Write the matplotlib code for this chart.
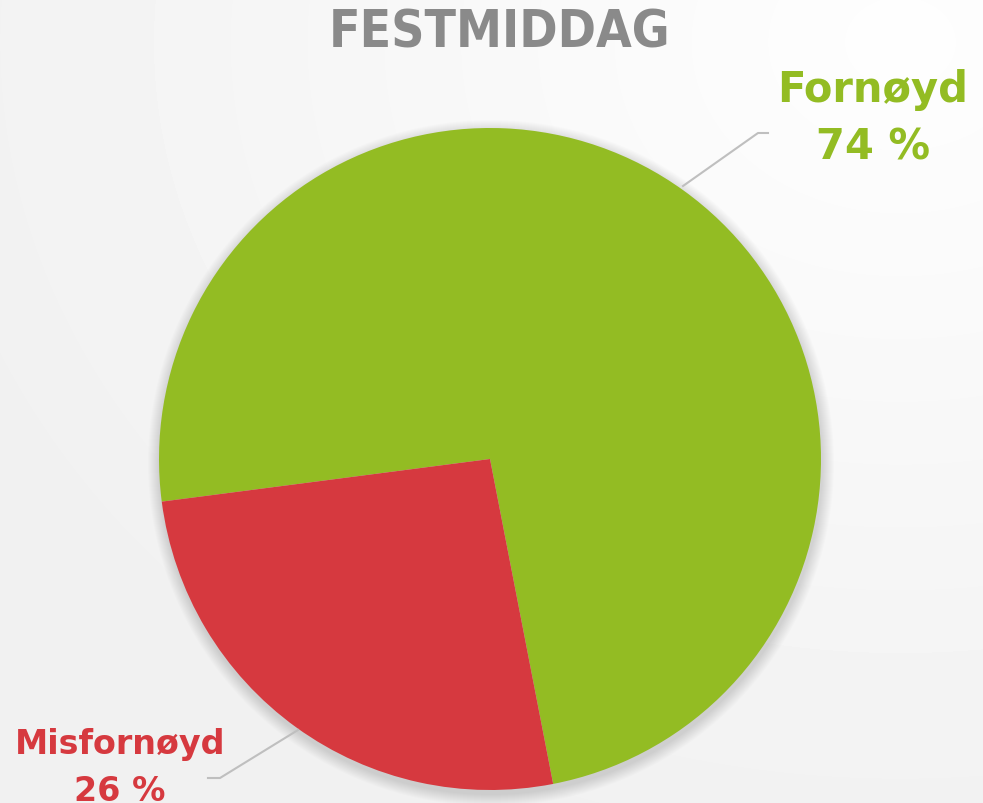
import numpy as np
import matplotlib
matplotlib.use("Agg")
import matplotlib.pyplot as plt
from matplotlib.patches import Circle

TITLE = "FESTMIDDAG"
LABELS = ["Fornøyd", "Misfornøyd"]
SHARES = [74, 26]
COLORS = ["#93BC23", "#D6393F"]

W, H = 983, 804


def main():
    fig = plt.figure(figsize=(W / 100, H / 100), dpi=100)
    ax = fig.add_axes([0, 0, 1, 1])

    # soft background: white at the top right, light grey elsewhere
    yy, xx = np.mgrid[0:H, 0:W]
    d = np.hypot((xx - 900) / W, (yy - 760) / H)
    bg = 0.995 - 0.05 * np.clip(d, 0, 1)
    ax.imshow(bg, cmap="gray", vmin=0, vmax=1, extent=(0, W, 0, H),
              origin="lower", zorder=0, interpolation="bilinear")

    cx, cy, r = 490, H - 460, 331

    # faint shadow around the pie
    for i in range(12):
        ax.add_patch(Circle((cx + 1, cy - 4), r + 12 - i, color="black",
                            alpha=0.012, lw=0, zorder=1))

    ax.pie(SHARES, colors=COLORS, startangle=-79, counterclock=True,
           center=(cx, cy), radius=r, frame=True,
           wedgeprops=dict(linewidth=0, zorder=2))
    ax.set_xlim(0, W)
    ax.set_ylim(0, H)
    ax.set_aspect("equal")
    ax.axis("off")

    ax.text(500, H - 33, TITLE, ha="center", va="center", fontsize=37,
            fontweight="bold", fontstretch="condensed", color="#8A8A8A",
            family=["DejaVu Sans"])

    # leader lines
    ax.plot([683, 758, 768], [H - 187, H - 134, H - 134], color="#BFBFBF",
            lw=1.5, zorder=3)
    ax.plot([298, 220, 208], [H - 731, H - 779, H - 779], color="#BFBFBF",
            lw=1.5, zorder=3)

    lab = ["DejaVu Sans"]
    ax.text(873, H - 90, LABELS[0], ha="center", va="center", fontsize=30,
            fontweight="bold", color=COLORS[0], family=lab)
    ax.text(873, H - 148, f"{SHARES[0]} %", ha="center", va="center",
            fontsize=30, fontweight="bold", color=COLORS[0], family=lab)
    ax.text(120, H - 745, LABELS[1], ha="center", va="center", fontsize=24,
            fontweight="bold", color=COLORS[1], family=lab)
    ax.text(120, H - 792, f"{SHARES[1]} %", ha="center", va="center",
            fontsize=24, fontweight="bold", color=COLORS[1], family=lab)

    fig.savefig("out.png", dpi=100)


if __name__ == "__main__":
    main()
